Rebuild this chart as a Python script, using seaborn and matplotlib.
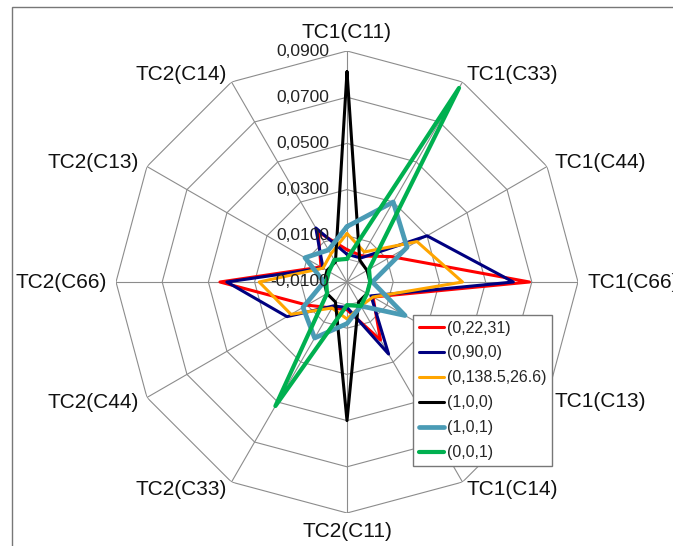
import matplotlib
matplotlib.use('Agg')

import matplotlib.pyplot as plt
import seaborn as sns
import numpy as np
import pandas as pd

# axes of the radar, clockwise from the top
axis_labels = ['TC1(C11)', 'TC1(C33)', 'TC1(C44)', 'TC1(C66)', 'TC1(C13)', 'TC1(C14)',
               'TC2(C11)', 'TC2(C33)', 'TC2(C44)', 'TC2(C66)', 'TC2(C13)', 'TC2(C14)']

s_0_22_31 = [0.004, 0.003, 0.012, 0.069, 0.003, 0.019, 0.002, 0.003, 0.010, 0.045, 0.003, 0.015]
s_0_90_0 = [0.002, 0.002, 0.030, 0.062, 0.002, 0.026, 0.001, 0.002, 0.020, 0.042, 0.002, 0.017]
s_0_138 = [0.011, 0.005, 0.025, 0.040, 0.003, 0.002, 0.006, 0.003, 0.018, 0.028, 0.002, 0.004]
s_1_0_0 = [0.081, 0.001, 0.000, 0.000, 0.000, 0.000, 0.050, 0.000, 0.000, 0.000, 0.000, 0.000]
s_1_0_1 = [0.014, 0.030, 0.020, 0.001, 0.019, 0.002, 0.008, 0.018, 0.012, 0.000, 0.011, 0.006]
s_0_0_1 = [0.000, 0.087, 0.001, 0.000, 0.000, 0.002, 0.000, 0.052, 0.000, -0.001, -0.001, 0.001]

series_names = ['(0,22,31)', '(0,90,0)', '(0,138.5,26.6)', '(1,0,0)', '(1,0,1)', '(0,0,1)']
series_vals = [s_0_22_31, s_0_90_0, s_0_138, s_1_0_0, s_1_0_1, s_0_0_1]
colors = ['#FF0000', '#000080', '#FFA500', '#000000', '#4A9BB5', '#00B050']
widths = [2.2, 2.2, 2.2, 2.2, 3.4, 3.0]

r_ticks = [-0.01, 0.01, 0.03, 0.05, 0.07, 0.09]
r_min, r_max = -0.01, 0.09

sns.set_style('white')
plt.rcParams['font.family'] = ['Liberation Sans', 'DejaVu Sans']

fig = plt.figure(figsize=(6.73, 5.46), dpi=100)
# outer chart frame
fig.patches.append(plt.Rectangle((12 / 673, -0.05), 1.0, 1 - 7 / 546 + 0.05,
                                 transform=fig.transFigure, fill=False,
                                 edgecolor='#777777', linewidth=1.0))

ax = fig.add_axes([116 / 673, 33 / 546, 462 / 673, 462 / 546], projection='polar')
ax.set_theta_zero_location('N')
ax.set_theta_direction(-1)
ax.set_ylim(r_min, r_max)
ax.grid(False)
ax.set_xticks([])
ax.set_yticks([])
ax.spines['polar'].set_visible(False)

n = len(axis_labels)
theta = np.arange(n) * 2 * np.pi / n
theta_closed = np.append(theta, 2 * np.pi)

# polygon grid rings and spokes (plus the faint zero ring)
for r in r_ticks[1:]:
    ax.plot(theta_closed, [r] * (n + 1), color='#8c8c8c', lw=0.8, zorder=1)
ax.plot(theta_closed, [0.0] * (n + 1), color='#9a9a9a', lw=0.7, zorder=1)
for t in theta:
    ax.plot([t, t], [r_min, r_max], color='#8c8c8c', lw=0.8, zorder=1)

# series
for name, vals, c, w in zip(series_names, series_vals, colors, widths):
    df = pd.DataFrame({'theta': theta_closed, 'value': list(vals) + [vals[0]]})
    sns.lineplot(data=df, x='theta', y='value', ax=ax, sort=False, estimator=None,
                 color=c, lw=w, label=name, zorder=3)
ax.set_xlabel('')
ax.set_ylabel('')

# radial value labels along the top spoke
for r in r_ticks:
    ax.annotate('{:.4f}'.format(r).replace('.', ','), xy=(0, r), xytext=(-18, 0),
                textcoords='offset pixels', ha='right', va='center', fontsize=12.5,
                color='#222222', zorder=4)

# category labels around the outside
for t, lab in zip(theta, axis_labels):
    sx, cy = np.sin(t), np.cos(t)
    ha = 'center' if abs(sx) < 0.1 else ('left' if sx > 0 else 'right')
    if abs(cy) > 0.99:
        va = 'bottom' if cy > 0 else 'top'
    else:
        va = 'center'
    ax.annotate(lab, xy=(t, r_max), xytext=(9 * sx, 9 * cy), textcoords='offset pixels',
                ha=ha, va=va, fontsize=15, color='#111111', annotation_clip=False)

leg = ax.legend(loc='upper left', bbox_to_anchor=(413 / 673, 1 - 315 / 546),
                bbox_transform=fig.transFigure, fontsize=11.5, frameon=True,
                fancybox=False, framealpha=1, edgecolor='#777777', borderpad=0.35,
                handlelength=1.6, handletextpad=0.15, labelspacing=0.62, borderaxespad=0)
leg.get_frame().set_linewidth(1.0)
leg.set_zorder(5)

plt.savefig('out.png', dpi=100)
